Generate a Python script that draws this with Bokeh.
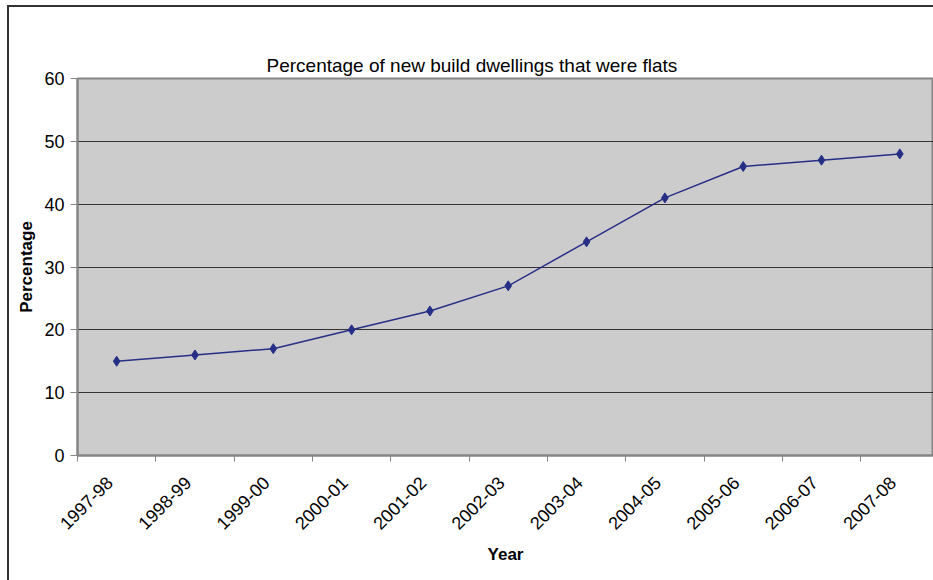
import math
from bokeh.plotting import figure
from bokeh.layouts import column
from bokeh.models import (ColumnDataSource, FixedTicker, Range1d, LinearAxis,
                          Title)
from bokeh.embed import file_html
from bokeh.resources import INLINE

# Share of new build dwellings that were flats, by financial year
years = ["1997-98", "1998-99", "1999-00", "2000-01", "2001-02", "2002-03",
         "2003-04", "2004-05", "2005-06", "2006-07", "2007-08"]
percent_flats = [15, 16, 17, 20, 23, 27, 34, 41, 46, 47, 48]
y_ticks = [0, 10, 20, 30, 40, 50, 60]

FONT = "Liberation Sans"
LINE = "#262f86"

# categories sit at half-integer positions, boundaries at integers
xs = [i + 0.5 for i in range(len(years))]
src = ColumnDataSource(dict(x=xs, y=percent_flats))

p = figure(width=924, height=573, output_backend="svg", toolbar_location=None,
           x_range=Range1d(0, 10.93), y_range=Range1d(0, 60),
           min_border_left=68, min_border_right=0, min_border_top=71,
           min_border_bottom=125)

p.background_fill_color = "#cccccc"
p.border_fill_color = "white"
p.outline_line_color = "#868686"
p.outline_line_width = 2

# chart title, at the top of the chart
p.add_layout(Title(text="Percentage of new build dwellings that were flats",
                   text_font=FONT, text_font_size="19px",
                   text_font_style="normal", text_color="black",
                   align="left", offset=189, standoff=6), "above")

# empty top axis: only keeps a gap between the title and the plot area
gap = LinearAxis(ticker=FixedTicker(ticks=[]), major_tick_in=0,
                 major_tick_out=39, axis_line_color=None,
                 major_tick_line_color=None, minor_tick_line_color=None,
                 major_label_standoff=0)
p.add_layout(gap, "above")

# y axis
p.yaxis.ticker = FixedTicker(ticks=y_ticks)
p.yaxis.axis_line_color = "#868686"
p.yaxis.axis_line_width = 2
p.yaxis.major_tick_line_color = "#868686"
p.yaxis.major_tick_in = 0
p.yaxis.major_tick_out = 7
p.yaxis.minor_tick_line_color = None
p.yaxis.major_label_text_font = FONT
p.yaxis.major_label_text_font_size = "18px"
p.yaxis.major_label_text_color = "black"
p.yaxis.major_label_standoff = 6
p.yaxis.axis_label = "Percentage"
p.yaxis.axis_label_text_font = FONT
p.yaxis.axis_label_text_font_size = "17px"
p.yaxis.axis_label_text_font_style = "bold"
p.yaxis.axis_label_text_color = "black"
p.yaxis.axis_label_standoff = 5

# x axis: tick marks at category boundaries; slanted labels sit just
# left of each category centre
label_pos = [x - 0.09 for x in xs]
xaxis = p.below[0]
xaxis.ticker = FixedTicker(ticks=label_pos,
                           minor_ticks=list(range(len(years) + 1)))
xaxis.major_label_overrides = {x: lab for x, lab in zip(label_pos, years)}
xaxis.major_label_orientation = math.pi / 4
xaxis.axis_line_color = "#868686"
xaxis.axis_line_width = 2
xaxis.major_tick_line_color = None
xaxis.major_tick_out = 0
xaxis.major_tick_in = 0
xaxis.minor_tick_line_color = "#868686"
xaxis.minor_tick_in = 0
xaxis.minor_tick_out = 6
xaxis.major_label_text_font = FONT
xaxis.major_label_text_font_size = "18px"
xaxis.major_label_text_color = "black"
xaxis.major_label_standoff = 18
xaxis.axis_label = "Year"
xaxis.axis_label_text_font = FONT
xaxis.axis_label_text_font_size = "17px"
xaxis.axis_label_text_font_style = "bold"
xaxis.axis_label_text_color = "black"
xaxis.axis_label_standoff = 7

p.xgrid.grid_line_color = None
p.ygrid.ticker = FixedTicker(ticks=[10, 20, 30, 40, 50])
p.ygrid.grid_line_color = "#333333"
p.ygrid.grid_line_width = 1

p.line("x", "y", source=src, line_color=LINE, line_width=1.5)
p.scatter("x", "y", source=src, marker="diamond", size=10,
          fill_color=LINE, line_color=LINE)

chart = column(p, margin=(5, 0, 0, 7),
               styles={"border-left": "2px solid #333333",
                       "border-top": "2px solid #333333"})

open("out.html", "w").write(file_html(chart, INLINE))
